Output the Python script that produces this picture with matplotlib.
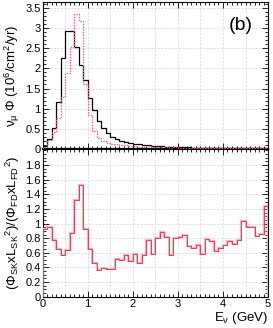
import numpy as np
import matplotlib
matplotlib.use('Agg')
import matplotlib.pyplot as plt
from matplotlib.ticker import MultipleLocator

plt.rcParams['font.family'] = ['Liberation Sans', 'DejaVu Sans']
plt.rcParams['mathtext.fontset'] = 'custom'
plt.rcParams['mathtext.rm'] = 'Liberation Sans'
plt.rcParams['mathtext.it'] = 'Liberation Sans:italic'

# 0.1 GeV bins from 0 to 5 GeV
bin_edges = np.round(np.arange(0, 5.01, 0.1), 2)

# flux at far detector (black, solid)
flux_fd = [0.06, 0.24, 0.53, 1.17, 2.25, 2.93, 2.93, 2.54, 2.08, 1.70,
           1.27, 0.97, 0.70, 0.52, 0.40, 0.30, 0.24, 0.19, 0.16, 0.14,
           0.125, 0.11, 0.095, 0.085, 0.075, 0.068, 0.062, 0.056, 0.051, 0.047,
           0.043, 0.040, 0.037, 0.034, 0.032, 0.030, 0.028, 0.026, 0.025, 0.024,
           0.022, 0.021, 0.020, 0.019, 0.018, 0.017, 0.016, 0.016, 0.015, 0.014]

# flux at SK (red, dotted)
flux_sk = [0.05, 0.23, 0.41, 0.76, 1.30, 1.89, 2.54, 3.35, 3.18, 1.60,
           0.83, 0.45, 0.27, 0.20, 0.15, 0.11, 0.12, 0.095, 0.09, 0.07,
           0.074, 0.05, 0.054, 0.066, 0.044, 0.054, 0.055, 0.045, 0.029, 0.038,
           0.035, 0.034, 0.026, 0.023, 0.023, 0.017, 0.022, 0.020, 0.016, 0.016,
           0.015, 0.016, 0.014, 0.015, 0.019, 0.016, 0.015, 0.013, 0.013, 0.017]

# (flux_SK x L_SK^2) / (flux_FD x L_FD^2)
ratio = [0.92, 0.95, 0.775, 0.65, 0.57, 0.64, 0.87, 1.32, 1.52, 0.93,
         0.65, 0.46, 0.365, 0.39, 0.375, 0.375, 0.52, 0.50, 0.565, 0.49,
         0.59, 0.455, 0.565, 0.78, 0.59, 0.80, 0.88, 0.81, 0.57, 0.80,
         0.82, 0.85, 0.69, 0.67, 0.71, 0.58, 0.79, 0.765, 0.63, 0.67,
         0.70, 0.76, 0.715, 0.78, 1.04, 0.95, 0.95, 0.83, 0.86, 1.24]

x_ticks = [0, 1, 2, 3, 4, 5]
top_yticks = [0, 0.5, 1, 1.5, 2, 2.5, 3, 3.5]
bot_yticks = [0, 0.2, 0.4, 0.6, 0.8, 1, 1.2, 1.4, 1.6, 1.8]

fig = plt.figure(figsize=(2.73, 3.28), dpi=100)
ax1 = fig.add_axes([0.156, 0.546, 0.826, 0.448])
ax2 = fig.add_axes([0.156, 0.0954, 0.826, 0.4506])

grid_kw = dict(color='#d0d0d0', linestyle=(0, (3, 2)), linewidth=0.5)

for ax in (ax1, ax2):
    ax.set_xlim(0, 5)
    ax.set_xticks(x_ticks)
    ax.set_xticklabels([str(v) for v in x_ticks])
    ax.xaxis.set_minor_locator(MultipleLocator(0.1))
    ax.tick_params(which='both', direction='in', top=True, right=True,
                   labelsize=8, width=0.6, pad=1.5)
    ax.tick_params(which='major', length=4)
    ax.tick_params(which='minor', length=2)
    for x in np.arange(0.5, 5, 0.5):
        ax.axvline(x, zorder=0, **grid_kw)
    for s in ax.spines.values():
        s.set_linewidth(0.8)

ax1.set_ylim(0, 3.65)
ax1.set_yticks(top_yticks)
ax1.set_yticklabels([f'{v:g}' for v in top_yticks])
ax1.yaxis.set_minor_locator(MultipleLocator(0.1))
for y in top_yticks[1:]:
    ax1.axhline(y, zorder=0, **grid_kw)
ax1.tick_params(labelbottom=False)
ax1.spines['bottom'].set_linewidth(1.6)

ax1.stairs(flux_fd, bin_edges, baseline=0, color='black', linewidth=0.9, zorder=3)
ax1.stairs(flux_sk, bin_edges, baseline=0, color='#f06078', linewidth=0.9,
           linestyle=(0, (1.2, 1.0)), zorder=4)
ax1.text(0.93, 0.84, '(b)', transform=ax1.transAxes, ha='right', va='center',
         fontsize=14)
ax1.set_ylabel(r'$\mathrm{ν_{μ}}$ Φ (10$^{\mathrm{6}}$/cm$^{\mathrm{2}}$/yr)',
               fontsize=9.5, labelpad=2)

ax2.set_ylim(0, 2.02)
ax2.set_yticks(bot_yticks)
ax2.set_yticklabels([f'{v:g}' for v in bot_yticks])
ax2.yaxis.set_minor_locator(MultipleLocator(0.05))
for y in bot_yticks[1:]:
    ax2.axhline(y, zorder=0, **grid_kw)

ax2.stairs(ratio, bin_edges, baseline=0, color='#f8b4bc', linewidth=1.6, zorder=3)
ax2.stairs(ratio, bin_edges, baseline=0, color='#e82845', linewidth=0.6, zorder=4)
ax2.set_ylabel(r'(Φ$_{\mathrm{SK}}$xL$_{\mathrm{SK}}$$^{\mathrm{2}}$)/(Φ$_{\mathrm{FD}}$xL$_{\mathrm{FD}}$$^{\mathrm{2}}$)',
               fontsize=9.5, labelpad=2)
ax2.set_xlabel(r'E$_{\mathrm{ν}}$ (GeV)', fontsize=9.5, loc='right', labelpad=1)

fig.savefig('out.png', dpi=100)
